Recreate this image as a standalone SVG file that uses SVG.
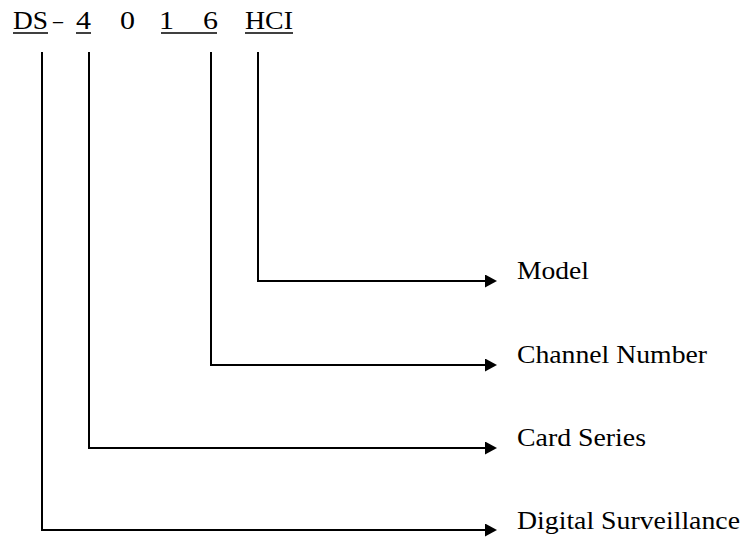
<svg xmlns="http://www.w3.org/2000/svg" width="746" height="538" viewBox="0 0 746 538">
<style>
.t{font-family:'Liberation Serif','Times New Roman',Times,serif;font-size:25px;fill:#000}
.ul{stroke:#000;stroke-width:1.5}
.conn{fill:none;stroke:#000;stroke-width:2;marker-end:url(#arr)}
</style>
<defs>
<marker id="arr" markerUnits="userSpaceOnUse" markerWidth="13" markerHeight="13" refX="0" refY="6.5" orient="auto">
<path d="M0,0 L12,6.5 L0,13 z" fill="#000"/>
</marker>
</defs>
<rect width="746" height="538" fill="#fff"/>
<g id="code" class="t">
<text x="13" y="29" textLength="35" lengthAdjust="spacingAndGlyphs">DS</text>
<line class="ul" x1="13" y1="33" x2="48" y2="33"/>
<text x="53" y="29" textLength="10" lengthAdjust="spacingAndGlyphs">–</text>
<text x="76" y="29" textLength="15" lengthAdjust="spacingAndGlyphs">4</text>
<line class="ul" x1="76" y1="33" x2="91" y2="33"/>
<text x="120" y="29" textLength="15" lengthAdjust="spacingAndGlyphs">0</text>
<text x="159" y="29" textLength="15" lengthAdjust="spacingAndGlyphs">1</text>
<text x="203" y="29" textLength="15" lengthAdjust="spacingAndGlyphs">6</text>
<line class="ul" x1="161" y1="33" x2="217" y2="33"/>
<text x="245" y="29" textLength="48" lengthAdjust="spacingAndGlyphs">HCI</text>
<line class="ul" x1="245" y1="33" x2="293" y2="33"/>
</g>
<g id="connectors">
<path class="conn" d="M258,52 V281 H485"/>
<path class="conn" d="M211,52 V365 H485"/>
<path class="conn" d="M89,52 V448 H485"/>
<path class="conn" d="M42,52 V530 H485"/>
</g>
<g id="model" class="t"><text x="517" y="279" textLength="72" lengthAdjust="spacingAndGlyphs">Model</text></g>
<g id="channel-number" class="t"><text x="517" y="363" textLength="190" lengthAdjust="spacingAndGlyphs">Channel Number</text></g>
<g id="card-series" class="t"><text x="517" y="446" textLength="129" lengthAdjust="spacingAndGlyphs">Card Series</text></g>
<g id="digital-surveillance" class="t"><text x="517" y="529" textLength="223" lengthAdjust="spacingAndGlyphs">Digital Surveillance</text></g>
</svg>
